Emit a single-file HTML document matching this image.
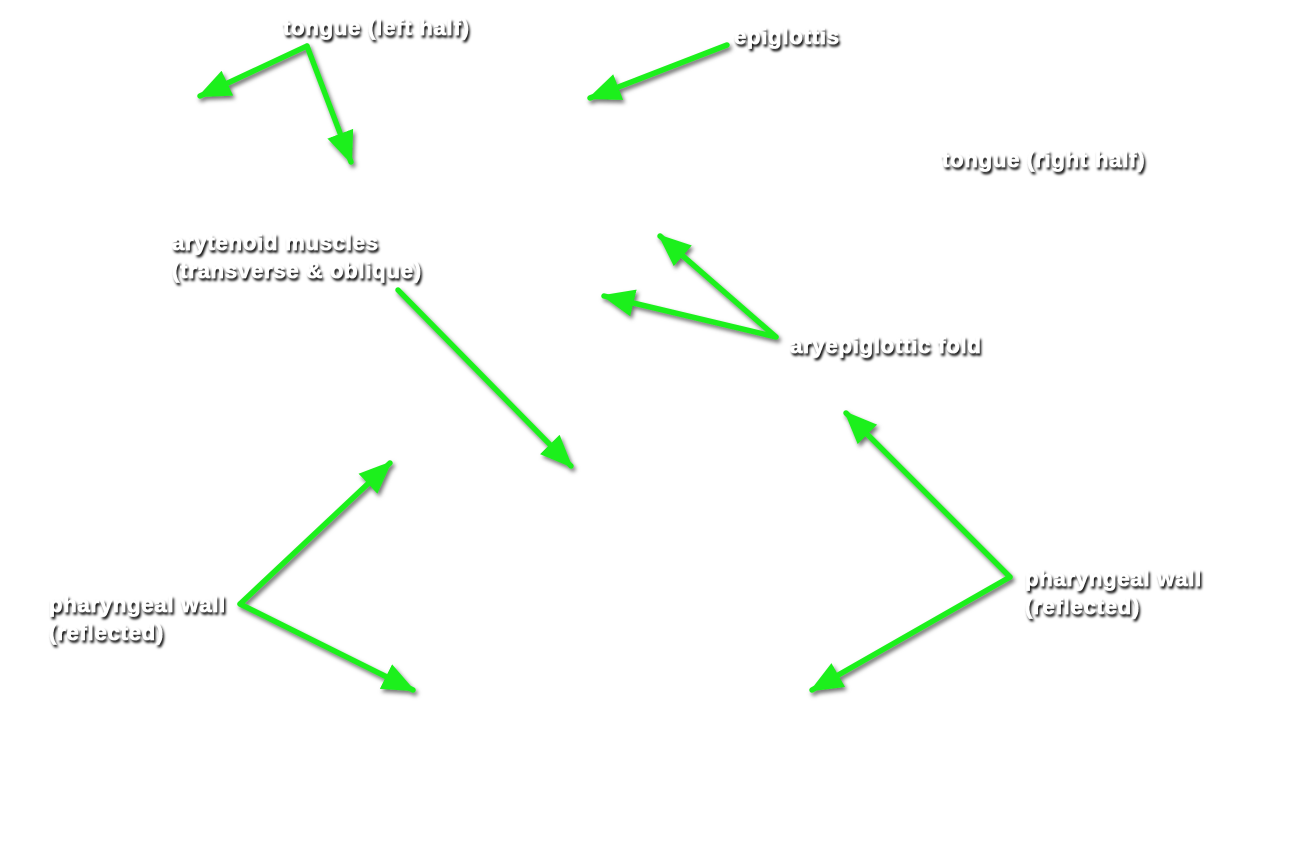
<!DOCTYPE html>
<html><head><meta charset="utf-8"><style>
html,body{margin:0;padding:0;background:#fff;width:1298px;height:850px;overflow:hidden}
svg{display:block}
text{font-family:"Liberation Sans",Arial,sans-serif;font-weight:bold;font-size:22px;fill:#fff;letter-spacing:0.8px;stroke:#fff;stroke-width:0.6px}
</style></head><body>
<svg width="1298" height="850" viewBox="0 0 1298 850" xmlns="http://www.w3.org/2000/svg">
<defs>
<filter id="ts" x="-20%" y="-50%" width="140%" height="200%">
<feDropShadow dx="1.5" dy="2.5" stdDeviation="1.3" flood-color="#000" flood-opacity="1"/>
</filter>
<filter id="as" x="-20%" y="-20%" width="140%" height="140%">
<feDropShadow dx="2" dy="3" stdDeviation="2" flood-color="#000" flood-opacity="0.55"/>
</filter>
<marker id="ah" markerWidth="6" markerHeight="5" refX="5.5" refY="2.5" orient="auto" markerUnits="strokeWidth">
<path d="M0,0 L6,2.5 L0,5 Z" fill="#1ef01e"/>
</marker>
</defs>
<g stroke="#1ef01e" stroke-width="5.5" fill="none" marker-end="url(#ah)" filter="url(#as)" stroke-linecap="round">
<path d="M307,46 L200,96"/>
<path d="M307,46 L351,162"/>
<path d="M727,45 L590,98"/>
<path d="M776,337 L660,236"/>
<path d="M776,337 L604,296"/>
<path d="M398,290 L571,466"/>
<path d="M240,604 L390,463"/>
<path d="M240,604 L413,690"/>
<path d="M1010,577 L846,413"/>
<path d="M1010,577 L812,690"/>
</g>
<g filter="url(#ts)">
<text x="283" y="35">tongue (left half)</text>
<text x="734" y="44">epiglottis</text>
<text x="942" y="167">tongue (right half)</text>
<text x="172" y="250">arytenoid muscles</text>
<text x="172" y="278">(transverse &amp; oblique)</text>
<text x="790" y="353">aryepiglottic fold</text>
<text x="49" y="612">pharyngeal wall</text>
<text x="49" y="640">(reflected)</text>
<text x="1025" y="586">pharyngeal wall</text>
<text x="1025" y="614">(reflected)</text>
</g>
</svg>
</body></html>
